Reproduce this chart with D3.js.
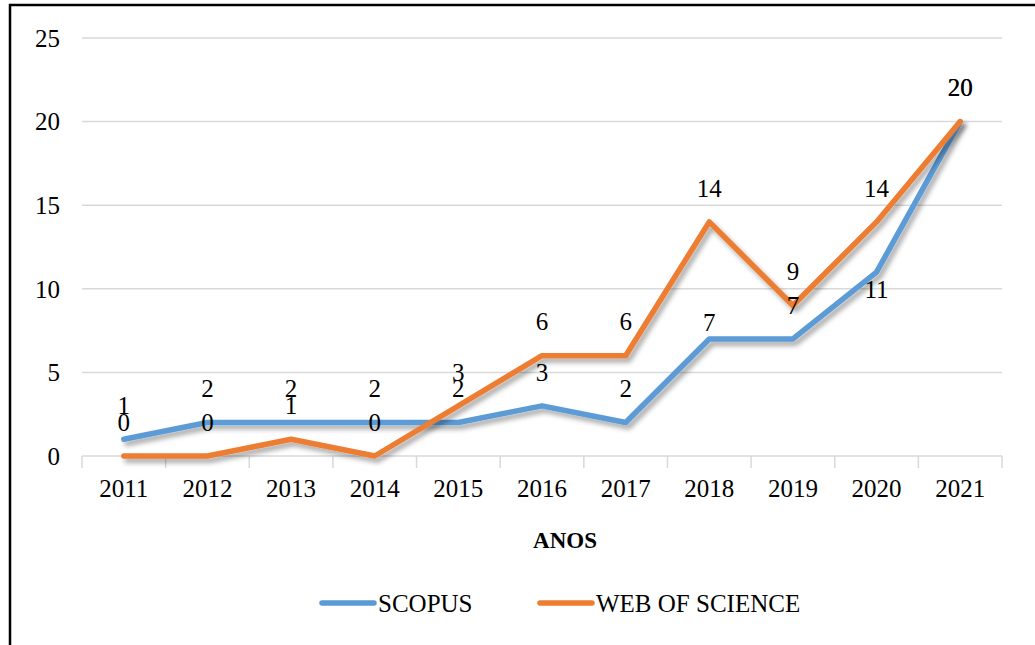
<!DOCTYPE html>
<html>
<head>
<meta charset="utf-8">
<script src="https://cdn.jsdelivr.net/npm/d3@7.9.0/dist/d3.min.js"></script>
<style>
  body { margin: 0; background: #fff; }
  text { font-family: "Liberation Serif", "DejaVu Serif", serif; }
</style>
</head>
<body>
<svg id="chart" width="1035" height="645"></svg>
<script>
const years = ["2011", "2012", "2013", "2014", "2015", "2016", "2017", "2018", "2019", "2020", "2021"];
const scopus = [1, 2, 2, 2, 2, 3, 2, 7, 7, 11, 20];
const webOfScience = [0, 0, 1, 0, 3, 6, 6, 14, 9, 14, 20];
const yTicks = [0, 5, 10, 15, 20, 25];

const FONT = "'Liberation Serif', 'Times New Roman', serif";

// Set up dimensions
const margin = { top: 38, right: 33, bottom: 189, left: 82 },
      width = 1035 - margin.left - margin.right,
      height = 645 - margin.top - margin.bottom;

const svgContainer = d3.select("#chart");

// Outer frame (only top and left visible)
svgContainer.append("path")
    .attr("d", "M10,645 V5 H1035")
    .attr("fill", "none")
    .attr("stroke", "#000")
    .attr("stroke-width", 2.5);

// Drop shadow for lines
const defs = svgContainer.append("defs");
const shadow = defs.append("filter")
    .attr("id", "shadow")
    .attr("x", "-10%").attr("y", "-10%")
    .attr("width", "130%").attr("height", "130%");
shadow.append("feDropShadow")
    .attr("dx", 3).attr("dy", 4)
    .attr("stdDeviation", 2.5)
    .attr("flood-color", "#000")
    .attr("flood-opacity", 0.35);

const svg = svgContainer.append("g")
    .attr("transform", `translate(${margin.left},${margin.top})`);

const xScale = d3.scaleBand()
    .domain(years)
    .range([0, width]);

const yScale = d3.scaleLinear()
    .domain([0, 25])
    .range([height, 0]);

const cx = d => xScale(d) + xScale.bandwidth() / 2;

// Gridlines
svg.selectAll(".grid")
    .data(yTicks.filter(t => t > 0))
    .enter()
    .append("line")
    .attr("x1", 0)
    .attr("x2", width)
    .attr("y1", d => yScale(d))
    .attr("y2", d => yScale(d))
    .attr("stroke", "#d9d9d9")
    .attr("stroke-width", 1.5);

// Y-axis labels
svg.selectAll(".ylabel")
    .data(yTicks)
    .enter()
    .append("text")
    .attr("x", -22)
    .attr("y", d => yScale(d))
    .attr("dy", "0.35em")
    .attr("text-anchor", "end")
    .attr("font-family", FONT)
    .style("font-size", "25px")
    .text(d => d);

// X-axis
const xAxis = svg.append("g")
    .attr("transform", `translate(0,${height})`);
xAxis.append("line")
    .attr("x1", 0).attr("x2", width)
    .attr("stroke", "#d9d9d9").attr("stroke-width", 1.5);
xAxis.selectAll(".tick")
    .data(years.concat(["end"]))
    .enter()
    .append("line")
    .attr("x1", (d, i) => i * xScale.bandwidth())
    .attr("x2", (d, i) => i * xScale.bandwidth())
    .attr("y1", 0).attr("y2", 12)
    .attr("stroke", "#d9d9d9").attr("stroke-width", 1.5);
xAxis.selectAll(".xlabel")
    .data(years)
    .enter()
    .append("text")
    .attr("x", d => cx(d))
    .attr("y", 41)
    .attr("text-anchor", "middle")
    .attr("font-family", FONT)
    .style("font-size", "25px")
    .text(d => d);

// X-axis title
svg.append("text")
    .attr("x", width / 2 + 23)
    .attr("y", height + 92)
    .attr("text-anchor", "middle")
    .attr("font-family", FONT)
    .style("font-size", "23px")
    .style("font-weight", "bold")
    .text("ANOS");

const series = [
    { name: "SCOPUS", values: scopus, color: "#5b9bd5" },
    { name: "WEB OF SCIENCE", values: webOfScience, color: "#ed7d31" }
];

const line = d3.line()
    .x((d, i) => cx(years[i]))
    .y(d => yScale(d));

series.forEach(s => {
    svg.append("path")
        .datum(s.values)
        .attr("d", line)
        .attr("fill", "none")
        .attr("stroke", s.color)
        .attr("stroke-width", 5.5)
        .attr("stroke-linejoin", "round")
        .attr("stroke-linecap", "round")
        .attr("filter", "url(#shadow)");
});

// Data labels (some scopus labels are shifted where lines collide)
const scopusShift = { "2018": 17, "2020": 51 };

svg.selectAll(".wlabel")
    .data(webOfScience)
    .enter()
    .append("text")
    .attr("x", (d, i) => cx(years[i]))
    .attr("y", d => yScale(d) - 34)
    .attr("dy", "0.35em")
    .attr("text-anchor", "middle")
    .attr("font-family", FONT)
    .style("font-size", "25px")
    .text(d => d);

svg.selectAll(".slabel")
    .data(scopus)
    .enter()
    .append("text")
    .attr("x", (d, i) => cx(years[i]))
    .attr("y", (d, i) => yScale(d) - 34 + (scopusShift[years[i]] || 0))
    .attr("dy", "0.35em")
    .attr("text-anchor", "middle")
    .attr("font-family", FONT)
    .style("font-size", "25px")
    .text(d => d);

// Legend
const legendX = [322, 540];
const legend = svgContainer.append("g");
series.forEach((s, i) => {
    legend.append("line")
        .attr("x1", legendX[i]).attr("x2", legendX[i] + 52)
        .attr("y1", 603).attr("y2", 603)
        .attr("stroke", s.color)
        .attr("stroke-width", 5.5)
        .attr("stroke-linecap", "round");
    legend.append("text")
        .attr("x", legendX[i] + 56)
        .attr("y", 603)
        .attr("dy", "0.35em")
        .attr("font-family", FONT)
        .style("font-size", "25px")
        .text(s.name);
});
</script>
</body>
</html>
